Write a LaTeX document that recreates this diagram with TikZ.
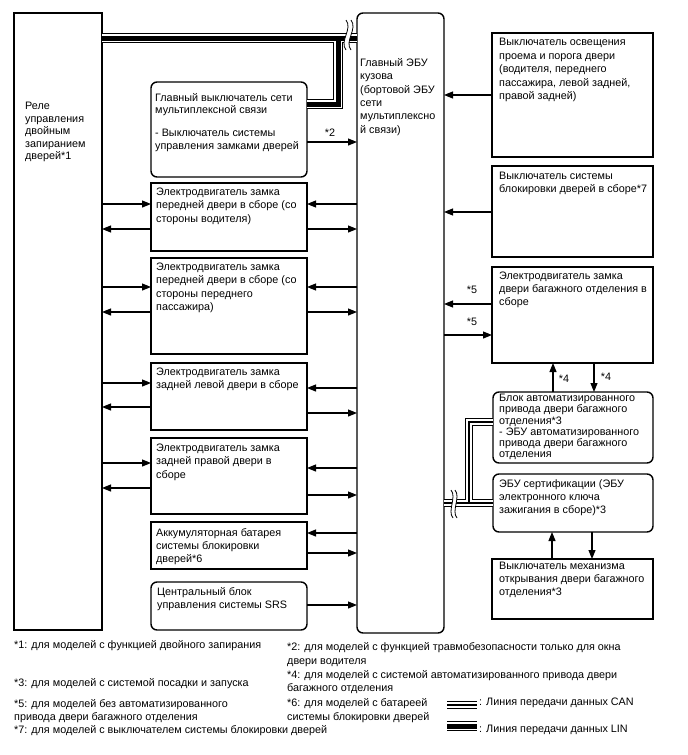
\documentclass[tikz,border=0pt]{standalone}
\usepackage{fontspec}
\setmainfont{Liberation Sans}
\usetikzlibrary{arrows.meta,calc}
\begin{document}
\begin{tikzpicture}[x=1pt,y=-1pt,
  box/.style={draw,line width=1.4pt,anchor=north west,inner sep=0pt,outer sep=0pt},
  rbox/.style={box,rounded corners=6pt},
  txt/.style={font=\fontsize{10.8}{13.2}\selectfont,align=left,inner sep=0pt,anchor=north west},
  arr/.style={line width=1.1pt,-{Triangle[length=9pt,width=7pt]}},
  lbl/.style={font=\fontsize{10.8}{12}\selectfont,inner sep=0pt},
  busA/.style={line width=10.5pt,line join=miter},
  busB/.style={white,line width=7.5pt,line join=miter},
  busC/.style={line width=5pt,line join=miter},
  canA/.style={line width=8pt,line join=miter},
  canB/.style={white,line width=5.6pt,line join=miter},
  canC/.style={line width=2.6pt,line join=miter},
  brk/.style={line width=0.8pt}
]
\useasboundingbox[fill=white] (0,0) rectangle (688,755);

% ---------- boxes ----------
\node[box,minimum width=88pt,minimum height=617pt] (rele) at (14,13) {};
\node[rbox,minimum width=87pt,minimum height=620pt] (ecu) at (357,13) {};
\node[rbox,minimum width=156pt,minimum height=95pt] (msw) at (151,82) {};
\node[box,minimum width=156pt,minimum height=68pt] (b2) at (151,183) {};
\node[box,minimum width=156pt,minimum height=96pt] (b3) at (151,258) {};
\node[box,minimum width=156pt,minimum height=67pt] (b4) at (151,363) {};
\node[box,minimum width=156pt,minimum height=76pt] (b5) at (151,438) {};
\node[box,minimum width=156pt,minimum height=47pt] (b6) at (151,522) {};
\node[rbox,minimum width=156pt,minimum height=48pt] (b7) at (151,582) {};
\node[box,minimum width=161pt,minimum height=124pt] (r1) at (492,33) {};
\node[box,minimum width=161pt,minimum height=91pt] (r2) at (492,166) {};
\node[box,minimum width=161pt,minimum height=96pt] (r3) at (492,267) {};
\node[rbox,minimum width=160pt,minimum height=71pt] (r4) at (493,392) {};
\node[rbox,minimum width=160pt,minimum height=58pt] (r5) at (493,474) {};
\node[box,minimum width=161pt,minimum height=60pt] (r6) at (492,559) {};

% ---------- texts ----------
\node[txt,font=\fontsize{10.8}{12.5}\selectfont] (trele) at (25,102) {Реле\\управления\\двойным\\запиранием\\дверей*1};
\node[txt,font=\fontsize{10.8}{13.4}\selectfont] (tecu) at (360,58) {Главный ЭБУ\\кузова\\(бортовой ЭБУ\\сети\\мультиплексно\\й связи)};
\node[txt,font=\fontsize{10.8}{12.3}\selectfont] (tmsw) at (155,93) {Главный выключатель сети\\мультиплексной связи\\[11pt]- Выключатель системы\\управления замками дверей};
\node[txt] (tb2) at (156,188) {Электродвигатель замка\\передней двери в сборе (со\\стороны водителя)};
\node[txt] (tb3) at (156,263) {Электродвигатель замка\\передней двери в сборе (со\\стороны переднего\\пассажира)};
\node[txt] (tb4) at (156,368) {Электродвигатель замка\\задней левой двери в сборе};
\node[txt] (tb5) at (156,444) {Электродвигатель замка\\задней правой двери в\\сборе};
\node[txt] (tb6) at (156,528) {Аккумуляторная батарея\\системы блокировки\\дверей*6};
\node[txt] (tb7) at (157,587) {Центральный блок\\управления системы SRS};
\node[txt,font=\fontsize{10.8}{13.5}\selectfont] (tr1) at (499,38) {Выключатель освещения\\проема и порога двери\\(водителя, переднего\\пассажира, левой задней,\\правой задней)};
\node[txt] (tr2) at (499,172) {Выключатель системы\\блокировки дверей в сборе*7};
\node[txt,font=\fontsize{10.8}{13}\selectfont] (tr3) at (499,272) {Электродвигатель замка\\двери багажного отделения в\\сборе};
\node[txt,font=\fontsize{10.8}{11.2}\selectfont] (tr4) at (499,394) {Блок автоматизированного\\привода двери багажного\\отделения*3\\- ЭБУ автоматизированного\\привода двери багажного\\отделения};
\node[txt,font=\fontsize{10.8}{13}\selectfont] (tr5) at (499,479) {ЭБУ сертификации (ЭБУ\\электронного ключа\\зажигания в сборе)*3};
\node[txt,font=\fontsize{10.8}{13}\selectfont] (tr6) at (499,562) {Выключатель механизма\\открывания двери багажного\\отделения*3};

% ---------- arrows, middle column ----------
\draw[arr] (msw.east |- 0,142) -- (ecu.west |- 0,142);
\node[lbl] (l2) at (330,133) {*2};
\foreach \b/\ya/\yb in {b2/204/229, b3/287/312} {
  \draw[arr] (rele.east |- 0,\ya) -- (\b.west |- 0,\ya);
  \draw[arr] (\b.west |- 0,\yb) -- (rele.east |- 0,\yb);
  \draw[arr] (ecu.west |- 0,\ya) -- (\b.east |- 0,\ya);
  \draw[arr] (\b.east |- 0,\yb) -- (ecu.west |- 0,\yb);
}
\draw[arr] (rele.east |- 0,383) -- (b4.west |- 0,383);
\draw[arr] (b4.west |- 0,407) -- (rele.east |- 0,407);
\draw[arr] (ecu.west |- 0,388) -- (b4.east |- 0,388);
\draw[arr] (b4.east |- 0,413) -- (ecu.west |- 0,413);
\draw[arr] (rele.east |- 0,463) -- (b5.west |- 0,463);
\draw[arr] (b5.west |- 0,488) -- (rele.east |- 0,488);
\draw[arr] (ecu.west |- 0,468) -- (b5.east |- 0,468);
\draw[arr] (b5.east |- 0,495) -- (ecu.west |- 0,495);
\draw[arr] (ecu.west |- 0,533) -- (b6.east |- 0,533);
\draw[arr] (b6.east |- 0,553) -- (ecu.west |- 0,553);
\draw[arr] (b7.east |- 0,605) -- (ecu.west |- 0,605);

% ---------- arrows, right column ----------
\draw[arr] (r1.west |- 0,95) -- (ecu.east |- 0,95);
\draw[arr] (r2.west |- 0,212) -- (ecu.east |- 0,212);
\draw[arr] (r3.west |- 0,304) -- (ecu.east |- 0,304);
\draw[arr] (ecu.east |- 0,335) -- (r3.west |- 0,335);
\node[lbl] (l5a) at (472,290) {*5};
\node[lbl] (l5b) at (472,322) {*5};
\draw[arr] (r4.north -| 553,0) -- (r3.south -| 553,0);
\draw[arr] (r3.south -| 594,0) -- (r4.north -| 594,0);
\node[lbl] (l4a) at (564,379) {*4};
\node[lbl] (l4b) at (606,377) {*4};
\draw[arr] (r6.north -| 552,0) -- (r5.south -| 552,0);
\draw[arr] (r5.south -| 592,0) -- (r6.north -| 592,0);

% ---------- LIN bus (top) ----------
\coordinate (lk1) at (338,104);
\coordinate (lk2) at (338,38);
\draw[busA] (rele.east |- 0,38) -- (ecu.west |- 0,38) (msw.east |- lk1) -- (lk1) -- (lk2);
\draw[busB] (rele.east |- 0,38) -- (ecu.west |- 0,38) (msw.east |- lk1) -- (lk1) -- (lk2);
\draw[busC] (rele.east |- 0,38) -- (ecu.west |- 0,38) (msw.east |- lk1) -- (lk1) -- (lk2);
% break mark
\fill[white] (346,20) .. controls (353,29) and (339,41) .. (346,50) -- (351,50) .. controls (344,41) and (358,29) .. (351,20) -- cycle;
\draw[brk] (346,20) .. controls (353,29) and (339,41) .. (346,50);
\draw[brk] (351,20) .. controls (358,29) and (344,41) .. (351,50);

% ---------- CAN bus (bottom) ----------
\coordinate (ck1) at (469,503);
\coordinate (ck2) at (469,422);
\draw[canA] (ecu.east |- ck1) -- (r5.west |- ck1) (ck1) -- (ck2) -- (r4.west |- ck2);
\draw[canB] (ecu.east |- ck1) -- (r5.west |- ck1) (ck1) -- (ck2) -- (r4.west |- ck2);
\draw[canC] (ecu.east |- ck1) -- (r5.west |- ck1) (ck1) -- (ck2) -- (r4.west |- ck2);
\fill[white] (451,490) .. controls (457,497) and (447,511) .. (453,518) -- (457,518) .. controls (451,511) and (461,497) .. (455,490) -- cycle;
\draw[brk] (451,490) .. controls (457,497) and (447,511) .. (453,518);
\draw[brk] (455,490) .. controls (461,497) and (451,511) .. (457,518);

% ---------- footnotes ----------
\node[txt] (f1) at (14,640) {*1: для моделей с функцией двойного запирания};
\node[txt,font=\fontsize{10.8}{14}\selectfont] (f2) at (287,642) {*2: для моделей с функцией травмобезопасности только для окна\\двери водителя};
\node[txt] (f3) at (14,678) {*3: для моделей с системой посадки и запуска};
\node[txt,font=\fontsize{10.8}{13.5}\selectfont] (f4) at (287,670) {*4: для моделей с системой автоматизированного привода двери\\багажного отделения};
\node[txt,font=\fontsize{10.8}{13}\selectfont] (f5) at (14,699) {*5: для моделей без автоматизированного\\привода двери багажного отделения};
\node[txt,font=\fontsize{10.8}{14}\selectfont] (f6) at (287,698) {*6: для моделей с батареей\\системы блокировки дверей};
\node[txt] (f7) at (14,725) {*7: для моделей с выключателем системы блокировки дверей};

% ---------- legend ----------
\draw[canA] (447,705) -- (477,705);
\draw[canB] (447,705) -- (477,705);
\draw[canC] (447,705) -- (477,705);
\node[txt] (lcan) at (479,698) {: Линия передачи данных CAN};
\draw[busA] (447,726) -- (477,726);
\draw[busB] (447,726) -- (477,726);
\draw[busC] (447,726) -- (477,726);
\node[txt] (llin) at (479,725) {: Линия передачи данных LIN};
\end{tikzpicture}
\end{document}
